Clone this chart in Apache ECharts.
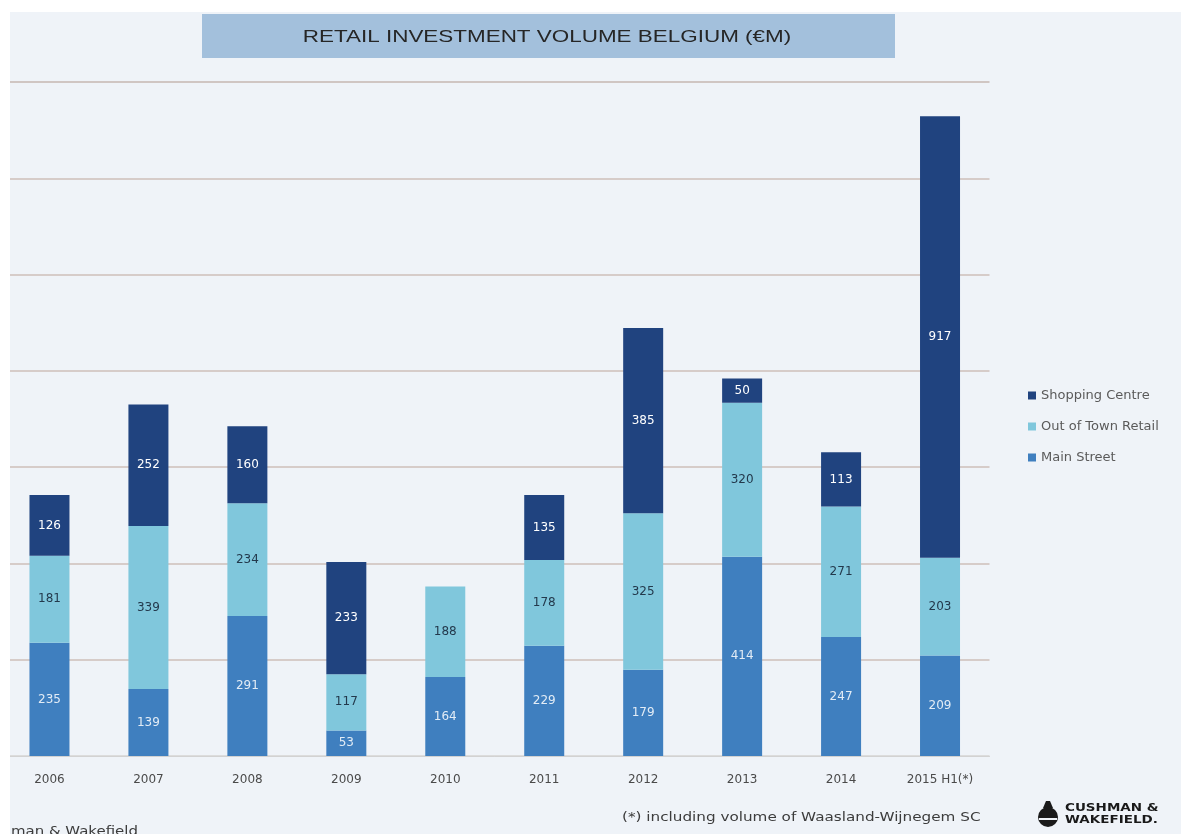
<!DOCTYPE html>
<html>
<head>
<meta charset="utf-8">
<title>Retail Investment Volume Belgium</title>
<script src="https://cdn.jsdelivr.net/npm/echarts@6/dist/echarts.min.js"></script>
<style>
  html, body { margin: 0; padding: 0; background: #ffffff; }
  #chart { width: 1181px; height: 834px; }
</style>
</head>
<body>
<div id="chart"></div>
<script>
// Years on the category axis
const years = ['2006', '2007', '2008', '2009', '2010', '2011', '2012', '2013', '2014', '2015 H1(*)'];

// Investment volume per segment, in € million
const mainStreet      = [235, 139, 291, 53, 164, 229, 179, 414, 247, 209];
const outOfTownRetail = [181, 339, 234, 117, 188, 178, 325, 320, 271, 203];
const shoppingCentre  = [126, 252, 160, 233, null, 135, 385, 50, 113, 917];

// Value axis range (gridlines every 200)
const yMin = 0, yMax = 1400, yStep = 200;

const titleText = 'RETAIL INVESTMENT VOLUME BELGIUM (€M)';
const footnoteText = '(*) including volume of Waasland-Wijnegem SC';
const sourceText = 'man & Wakefield';

const C_SHOP = '#20437f';
const C_OUT  = '#80c7dc';
const C_MAIN = '#3f7fbf';
const FONT = 'DejaVu Sans';

const chart = echarts.init(document.getElementById('chart'), null, { renderer: 'canvas' });

function barSeries(name, data, color, labelColor, z) {
  return {
    name: name,
    type: 'bar',
    stack: 'volume',
    data: data,
    barWidth: 40,
    z: z,
    itemStyle: { color: color },
    label: {
      show: true,
      position: 'inside',
      color: labelColor,
      fontFamily: FONT,
      fontSize: 12,
      formatter: p => (p.value == null ? '' : String(p.value))
    },
    emphasis: { disabled: true }
  };
}

const gridColor = '#d6ccc9';

const option = {
  animation: false,
  backgroundColor: '#eff3f8',
  grid: { left: -1.5, right: 191.5, top: 82, bottom: 78, containLabel: false },
  xAxis: {
    type: 'category',
    data: years,
    axisLine: { show: true, lineStyle: { color: '#d2d2d2', width: 1 } },
    axisTick: { show: false },
    axisLabel: { color: '#4a4a4a', fontFamily: FONT, fontSize: 12, margin: 18 }
  },
  yAxis: {
    type: 'value',
    min: yMin,
    max: yMax,
    interval: yStep,
    axisLine: { show: false },
    axisTick: { show: false },
    axisLabel: { show: false },
    splitLine: {
      show: true,
      lineStyle: {
        color: ['#dcdcdc', gridColor, gridColor, gridColor, gridColor, gridColor, gridColor, '#d0c6c3'],
        width: 2
      }
    }
  },
  legend: {
    orient: 'vertical',
    left: 1023,
    top: 383,
    icon: 'rect',
    itemWidth: 8,
    itemHeight: 8,
    itemGap: 16,
    selectedMode: false,
    data: ['Shopping Centre', 'Out of Town Retail', 'Main Street'],
    textStyle: { color: '#5a5a5a', fontFamily: FONT, fontSize: 13, lineHeight: 15 }
  },
  series: [
    barSeries('Main Street', mainStreet, C_MAIN, 'rgba(255,255,255,0.85)', 2),
    barSeries('Out of Town Retail', outOfTownRetail, C_OUT, '#23394c', 2),
    barSeries('Shopping Centre', shoppingCentre, C_SHOP, '#ffffff', 2)
  ],
  graphic: [
    // white page margins
    { type: 'rect', left: 0, top: 0, z: 100, silent: true,
      shape: { width: 1181, height: 12 }, style: { fill: '#ffffff' } },
    { type: 'rect', left: 0, top: 0, z: 100, silent: true,
      shape: { width: 10, height: 834 }, style: { fill: '#ffffff' } },
    // title banner
    { type: 'rect', z: 50, silent: true,
      shape: { x: 202, y: 14, width: 693, height: 44 }, style: { fill: '#a3c0dc' } },
    { type: 'text', z: 51, silent: true, x: 547, y: 37, scaleX: 1.32,
      style: { text: titleText, fill: '#262626', font: '17px "Liberation Sans", Arial, sans-serif',
               textAlign: 'center', textVerticalAlign: 'middle' } },
    // footnote
    { type: 'text', z: 51, silent: true, x: 622, y: 818, scaleX: 1.17,
      style: { text: footnoteText, fill: '#3c3c3c', font: '13px "DejaVu Sans", sans-serif',
               textAlign: 'left', textVerticalAlign: 'middle' } },
    // source line (partly off the page)
    { type: 'text', z: 51, silent: true, x: 11, y: 832, scaleX: 1.15,
      style: { text: sourceText, fill: '#3c3c3c', font: '13px "DejaVu Sans", sans-serif',
               textAlign: 'left', textVerticalAlign: 'middle' } },
    // logo mark
    { type: 'group', z: 51, silent: true, children: [
      { type: 'circle', shape: { cx: 1048, cy: 817, r: 10 }, style: { fill: '#1a1a1a' } },
      { type: 'polygon', shape: { points: [[1043, 808], [1046, 801], [1050, 801], [1053, 808]] }, style: { fill: '#1a1a1a' } },
      { type: 'rect', shape: { x: 1039, y: 818, width: 18, height: 2 }, style: { fill: '#eff3f8' } }
    ] },
    { type: 'text', z: 51, silent: true, x: 1065, y: 808, scaleX: 1.35,
      style: { text: 'CUSHMAN &', fill: '#1a1a1a', font: 'bold 10px "DejaVu Sans", sans-serif',
               textAlign: 'left', textVerticalAlign: 'middle' } },
    { type: 'text', z: 51, silent: true, x: 1065, y: 820, scaleX: 1.35,
      style: { text: 'WAKEFIELD.', fill: '#1a1a1a', font: 'bold 10px "DejaVu Sans", sans-serif',
               textAlign: 'left', textVerticalAlign: 'middle' } }
  ]
};

chart.setOption(option);
</script>
</body>
</html>
